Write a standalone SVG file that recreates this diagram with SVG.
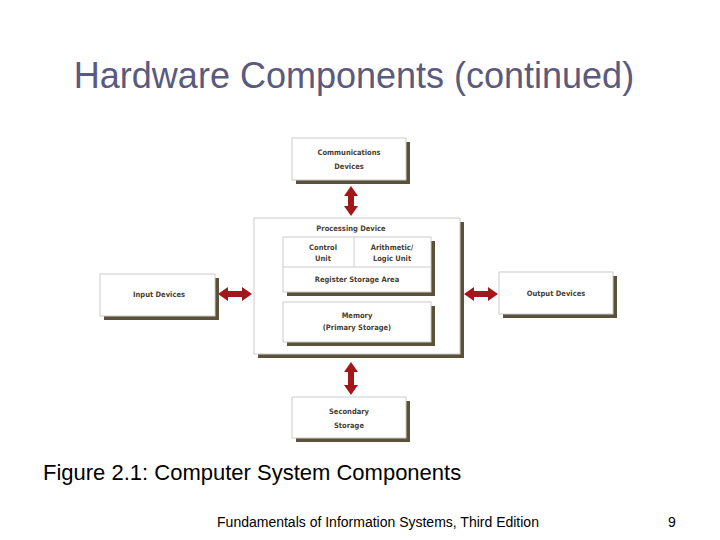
<svg xmlns="http://www.w3.org/2000/svg" width="720" height="540" viewBox="0 0 720 540">
<style>
.b{fill:#fff;stroke:#ccc;stroke-width:1}
.s{fill:#5b5139}
.t{font-family:"DejaVu Sans Condensed","DejaVu Sans",sans-serif;font-size:7.5px;font-weight:bold;fill:#4a4030;text-anchor:middle}
.a{fill:#a3161a}
</style>
<rect width="720" height="540" fill="#fff"/>
<text x="354" y="88" font-family="Liberation Sans,Arial,sans-serif" font-size="36" fill="#5a5a7e" text-anchor="middle">Hardware Components (continued)</text>
<g id="comm"><rect class="s" x="296" y="142" width="114" height="42"/><rect class="b" x="292" y="138" width="114" height="42"/><text class="t" x="349" y="155">Communications</text><text class="t" x="349" y="169">Devices</text></g>
<g id="proc"><rect class="s" x="258" y="222" width="206" height="136"/><rect class="b" x="254" y="218" width="206" height="136"/><text class="t" x="351" y="231">Processing Device</text>
<rect class="s" x="287" y="241" width="148" height="55"/><rect class="b" x="283" y="237" width="148" height="55"/>
<line x1="354" y1="237" x2="354" y2="267" stroke="#ccc"/><line x1="283" y1="267" x2="431" y2="267" stroke="#ccc"/>
<text class="t" x="323" y="250">Control</text><text class="t" x="323" y="261">Unit</text>
<text class="t" x="392" y="250">Arithmetic/</text><text class="t" x="392" y="261">Logic Unit</text>
<text class="t" x="357" y="282">Register Storage Area</text></g>
<g id="mem"><rect class="s" x="287" y="306" width="148" height="40"/><rect class="b" x="283" y="302" width="148" height="40"/><text class="t" x="357" y="318">Memory</text><text class="t" x="357" y="330">(Primary Storage)</text></g>
<g id="input"><rect class="s" x="104" y="278" width="115" height="42"/><rect class="b" x="100" y="274" width="115" height="42"/><text class="t" x="159" y="297">Input Devices</text></g>
<g id="output"><rect class="s" x="503" y="276" width="114" height="42"/><rect class="b" x="499" y="272" width="114" height="42"/><text class="t" x="556" y="296">Output Devices</text></g>
<g id="sec"><rect class="s" x="296" y="401" width="114" height="41"/><rect class="b" x="292" y="397" width="114" height="41"/><text class="t" x="349" y="414">Secondary</text><text class="t" x="349" y="428">Storage</text></g>
<g id="connectors">
<path class="a" d="M351 186 L358 196 L354 196 L354 206 L358 206 L351 216 L344 206 L348 206 L348 196 L344 196 Z"/>
<path class="a" d="M351 362 L358 372 L354 372 L354 385 L358 385 L351 395 L344 385 L348 385 L348 372 L344 372 Z"/>
<path class="a" d="M218 294 L228 287 L228 291 L242 291 L242 287 L252 294 L242 301 L242 297 L228 297 L228 301 Z"/>
<path class="a" d="M464 294 L474 287 L474 291 L488 291 L488 287 L498 294 L488 301 L488 297 L474 297 L474 301 Z"/>
</g>
<text x="43" y="480" font-family="Liberation Sans,Arial,sans-serif" font-size="22" fill="#000">Figure 2.1: Computer System Components</text>
<text x="378" y="527" font-family="Liberation Sans,Arial,sans-serif" font-size="14" fill="#000" text-anchor="middle">Fundamentals of Information Systems, Third Edition</text>
<text x="672" y="527" font-family="Liberation Sans,Arial,sans-serif" font-size="14" fill="#000" text-anchor="middle">9</text>
</svg>
